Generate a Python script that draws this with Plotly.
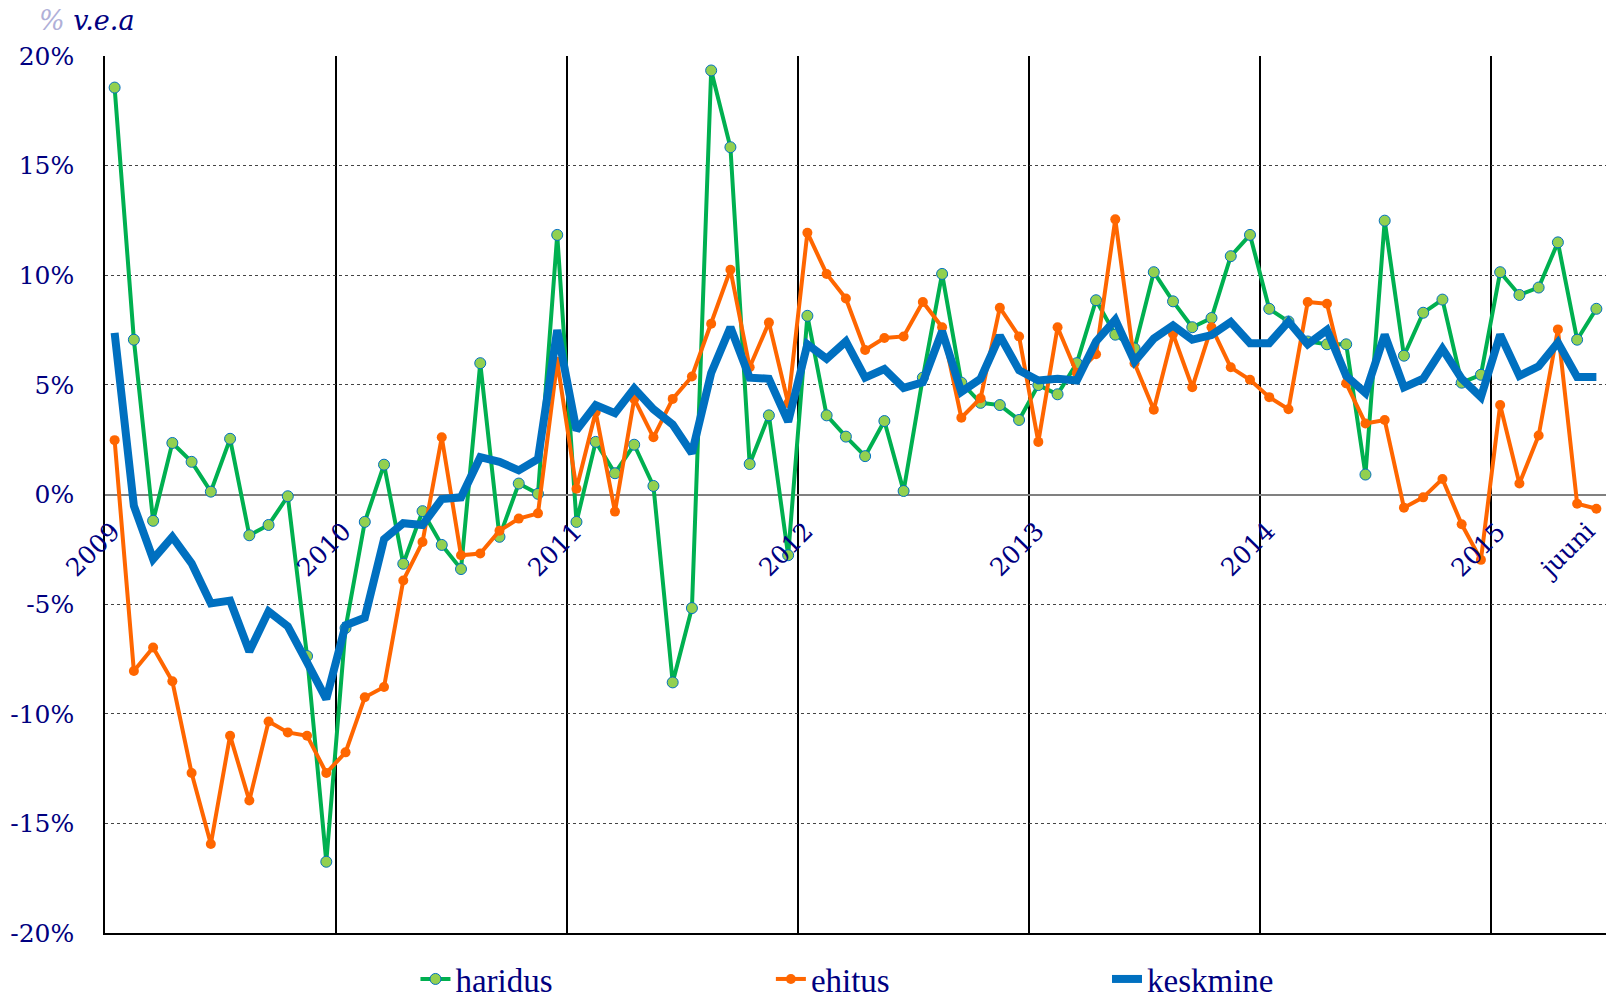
import plotly.graph_objects as go

# ---------------- data ----------------
months = [f"{y}-{m:02d}" for y in range(2009, 2016) for m in range(1, 13)][:78]

haridus = [
    18.56, 7.06, -1.20, 2.35, 1.49, 0.13, 2.54, -1.86, -1.39, -0.08, -7.37, -16.75,
    -6.09, -1.25, 1.36, -3.16, -0.76, -2.30, -3.40, 5.99, -1.93, 0.50, 0.03, 11.84,
    -1.25, 2.40, 0.97, 2.27, 0.39, -8.57, -5.18, 19.34, 15.84, 1.39, 3.61, -2.77,
    8.15, 3.61, 2.64, 1.75, 3.35, 0.16, 5.33, 10.06, 5.10, 4.18, 4.08, 3.40,
    4.99, 4.57, 5.99, 8.86, 7.29, 6.66, 10.14, 8.81, 7.63, 8.05, 10.87, 11.84,
    8.47, 7.89, 6.98, 6.85, 6.85, 0.91, 12.49, 6.33, 8.29, 8.89, 5.10, 5.46,
    10.14, 9.10, 9.44, 11.50, 7.06, 8.47,
]

ehitus = [
    2.48, -8.05, -6.98, -8.52, -12.70, -15.94, -11.00, -13.96, -10.35, -10.85, -11.00, -12.70,
    -11.76, -9.25, -8.78, -3.92, -2.17, 2.61, -2.77, -2.69, -1.65, -1.10, -0.86, 6.06,
    0.26, 3.76, -0.78, 4.36, 2.61, 4.36, 5.38, 7.79, 10.25, 5.80, 7.84, 4.16,
    11.94, 10.06, 8.94, 6.59, 7.14, 7.21, 8.78, 7.63, 3.50, 4.39, 8.52, 7.21,
    2.40, 7.63, 5.54, 6.40, 12.55, 5.99, 3.87, 7.32, 4.89, 7.63, 5.80, 5.23,
    4.44, 3.89, 8.78, 8.70, 5.07, 3.24, 3.40, -0.60, -0.13, 0.71, -1.36, -2.98,
    4.08, 0.50, 2.69, 7.53, -0.42, -0.65,
]

keskmine = [
    7.37, -0.52, -2.95, -1.93, -3.14, -4.97, -4.84, -7.16, -5.33, -6.01, -7.66, -9.33,
    -5.96, -5.62, -2.04, -1.31, -1.39, -0.21, -0.13, 1.70, 1.49, 1.10, 1.62, 7.50,
    2.93, 4.08, 3.71, 4.84, 3.89, 3.19, 1.88, 5.54, 7.63, 5.33, 5.28, 3.32,
    6.85, 6.19, 6.98, 5.33, 5.72, 4.86, 5.12, 7.45, 4.68, 5.28, 7.24, 5.67,
    5.20, 5.28, 5.20, 6.98, 7.97, 6.06, 7.11, 7.71, 7.06, 7.27, 7.87, 6.90,
    6.90, 7.89, 6.85, 7.50, 5.41, 4.63, 7.29, 4.89, 5.28, 6.64, 5.28, 4.44,
    7.29, 5.41, 5.85, 6.93, 5.36, 5.36,
]

x_label_pos = ["2009-01", "2010-01", "2011-01", "2012-01", "2013-01", "2014-01", "2015-01", "2015-06"]
x_label_text = ["2009", "2010", "2011", "2012", "2013", "2014", "2015", "juuni"]

y_tick_vals = [-20, -15, -10, -5, 0, 5, 10, 15, 20]
y_tick_text = ["-20%", "-15%", "-10%", "-5%", "0%", "5%", "10%", "15%", "20%"]

# ---------------- figure ----------------
NAVY = "#000080"
SERIF = "DejaVu Serif"

fig = go.Figure()
fig.add_trace(go.Scatter(
    x=months, y=haridus, name="haridus", mode="lines+markers",
    line=dict(color="#00B050", width=4),
    marker=dict(size=11, color="#92D050", line=dict(color="#0070C0", width=1)),
    legend="legend",
))
fig.add_trace(go.Scatter(
    x=months, y=ehitus, name="ehitus", mode="lines+markers",
    line=dict(color="#FF6600", width=4),
    marker=dict(size=10, color="#FF6600"),
    legend="legend2",
))
fig.add_trace(go.Scatter(
    x=months, y=keskmine, name="keskmine", mode="lines",
    line=dict(color="#0070C0", width=8),
    legend="legend3",
))

for i, (pos, txt) in enumerate(zip(x_label_pos, x_label_text)):
    last = i == len(x_label_pos) - 1
    fig.add_annotation(
        x=pos, y=0, xref="x", yref="y", text=txt, showarrow=False,
        textangle=-45, xanchor="right", yanchor="top",
        xshift=7 if last else 14, yshift=-19,
        font=dict(family=SERIF, size=25, color=NAVY),
    )

fig.add_annotation(
    xref="paper", yref="paper", x=-0.045, y=1.061, xanchor="left", yanchor="top",
    text="<i><span style='color:#b0b0d8'>%</span> v.e.a</i>", showarrow=False,
    font=dict(family=SERIF, size=27, color=NAVY),
)

legend_common = dict(
    orientation="h", xref="container", yref="container",
    yanchor="bottom", y=0.0, xanchor="left",
    font=dict(family="Liberation Serif", size=33, color=NAVY),
    bgcolor="rgba(0,0,0,0)",
)

fig.update_layout(
    width=1606, height=1007,
    margin=dict(l=105, r=0, t=56, b=74, autoexpand=False),
    paper_bgcolor="white", plot_bgcolor="white",
    showlegend=True,
    legend=dict(x=0.2587, **legend_common),
    legend2=dict(x=0.4800, **legend_common),
    legend3=dict(x=0.6893, **legend_common),
    xaxis=dict(
        type="category", range=[-0.5, 77.5],
        tickmode="linear", tick0=0, dtick=12, tickson="boundaries",
        showticklabels=False, ticks="",
        showgrid=True, gridcolor="black", gridwidth=2,
        showline=True, linecolor="black", linewidth=1.5,
        zeroline=False, automargin=False,
    ),
    yaxis=dict(
        range=[-20, 20], tickmode="array", tickvals=y_tick_vals, ticktext=y_tick_text,
        showgrid=True, gridcolor="#444444", griddash="dot", gridwidth=1,
        zeroline=True, zerolinecolor="#808080", zerolinewidth=1.5,
        showline=True, linecolor="black", linewidth=1.5,
        ticks="", ticklabelstandoff=24, automargin=False,
        tickfont=dict(family=SERIF, size=25, color=NAVY),
    ),
)

fig.write_html(
    "out.html",
    config={"displayModeBar": False},
    post_script="document.body.style.margin='0';document.body.style.overflow='hidden';",
)
